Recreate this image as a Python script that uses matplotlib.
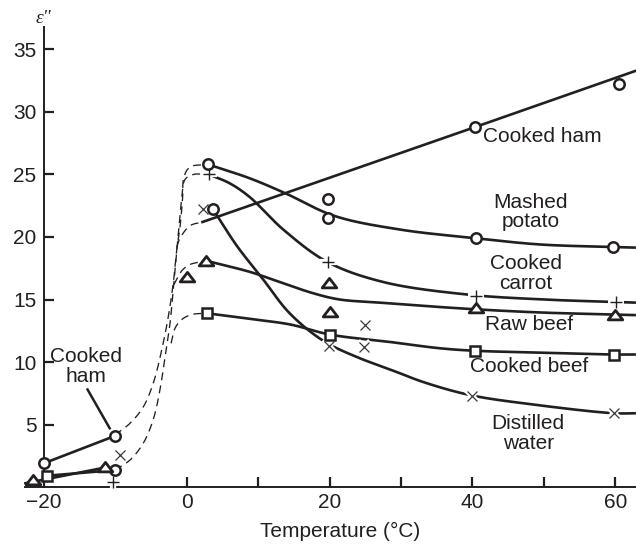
import numpy as np
import matplotlib
matplotlib.use("Agg")
import matplotlib.pyplot as plt
from matplotlib.path import Path

plt.rcParams['font.family'] = ['Liberation Sans', 'DejaVu Sans']

INK = '#231f20'

# ---------------- data ----------------
# Cooked ham (circles)
ham_mx = [-20, -10, 3.7, 40.4, 60.5]
ham_my = [1.9, 4.1, 22.2, 28.8, 32.2]
ham_low_x = [-20, -10]
ham_low_y = [1.9, 4.1]
ham_x = [2.2, 40.4, 62.9]
ham_y = [21.2, 28.8, 33.3]

# Mashed potato (circles)
pot_mx = [-10, 3.0, 19.8, 19.8, 40.5, 59.7]
pot_my = [1.35, 25.8, 23.0, 21.5, 19.9, 19.2]
pot_x = [3.0, 8.8, 13.8, 20.6, 29.8, 40.5, 49.5, 59.7, 62.9]
pot_y = [25.8, 24.7, 23.5, 21.7, 20.6, 19.9, 19.4, 19.2, 19.15]

# Cooked carrot (+)
car_mx = [-10.3, 3.1, 19.8, 40.5, 60.1]
car_my = [0.4, 25.0, 18.0, 15.3, 14.8]
car_x = [3.1, 6.0, 8.8, 13.5, 19.7, 27.5, 39.2, 50, 60.1, 62.9]
car_y = [25.0, 24.3, 23.2, 20.6, 18.0, 16.4, 15.4, 15.0, 14.8, 14.75]

# Raw beef (triangles)
rb_mx = [-21.6, -11.5, 0.0, 2.7, 19.9, 20.0, 40.5, 60.0]
rb_my = [0.6, 1.6, 16.8, 18.1, 16.3, 14.0, 14.3, 13.8]
rb_low_x = [-22.6, -11.5]
rb_low_y = [0.3, 1.55]
rb_x = [2.7, 8.9, 12.0, 17.7, 21.4, 27.0, 39.4, 50, 60.0, 62.9]
rb_y = [18.1, 17.2, 16.6, 15.5, 15.0, 14.75, 14.25, 13.95, 13.8, 13.75]

# Cooked beef (squares)
cb_mx = [-19.6, 2.8, 20.0, 40.3, 59.8]
cb_my = [0.9, 13.9, 12.2, 10.9, 10.6]
cb_low_x = [-19.6, -10.1]
cb_low_y = [0.9, 1.35]
cb_x = [2.8, 8.8, 14.5, 20.0, 28.5, 35.4, 40.3, 49.5, 59.8, 62.9]
cb_y = [13.9, 13.45, 13.0, 12.2, 11.6, 11.1, 10.9, 10.75, 10.6, 10.6]

# Distilled water (x)
dw_mx = [-9.3, 2.3, 19.9, 24.9, 24.8, 39.9, 59.8]
dw_my = [2.6, 22.2, 11.3, 13.0, 11.2, 7.3, 5.9]
dw_x = [3.7, 7.0, 10.7, 14.4, 19.1, 23.8, 28.5, 33.1, 39.7, 48.5, 59.8, 62.9]
dw_y = [22.2, 19.3, 16.6, 13.9, 11.7, 10.4, 9.4, 8.4, 7.35, 6.6, 5.9, 5.9]

# Dashed transition curves
d1_x = [-10.07, -7.95, -6.1, -4.7, -3.5, -2.6, -1.9, -1.4, -0.95, -0.6, -0.4, 0.45, 2.8]
d1_y = [4.16, 5.1, 6.4, 8.3, 11.0, 13.6, 16.3, 19.0, 20.8, 23.0, 24.8, 25.6, 25.8]
d2_x = [-10.07, -7.95, -6.1, -4.7, -3.75, -3.05, -2.35, -1.9, -1.5, -1.1, -0.7, -0.25, 0.9, 3.0]
d2_y = [1.36, 2.16, 3.5, 5.4, 7.8, 10.4, 13.1, 15.8, 18.2, 20.8, 23.2, 24.6, 25.0, 25.0]
bh_x = [-1.4, -0.95, 0.45, 2.2]
bh_y = [19.2, 19.9, 20.9, 21.2]
brb_x = [-1.8, -0.7, 0.45, 1.85, 2.7]
brb_y = [16.2, 17.3, 17.8, 18.0, 18.1]
bcb_x = [-2.2, -1.65, -0.7, 0.7, 2.8]
bcb_y = [11.5, 12.7, 13.4, 13.8, 13.9]

x_major = [-20, 0, 20, 40, 60]
x_minor = [-10, 10, 30, 50]
y_major = [5, 10, 15, 20, 25, 30, 35]

# ---------------- helpers ----------------
YS = 12.5 / 7.14  # aspect of data units in pixels


def smooth(xs, ys, n=40, alpha=0.5):
    P = np.column_stack([np.asarray(xs, float), np.asarray(ys, float) * YS])
    if len(P) < 3:
        return np.asarray(xs, float), np.asarray(ys, float)
    P = np.vstack([2 * P[0] - P[1], P, 2 * P[-1] - P[-2]])
    out = []
    for i in range(1, len(P) - 2):
        p0, p1, p2, p3 = P[i - 1], P[i], P[i + 1], P[i + 2]
        t0 = 0.0
        t1 = t0 + np.linalg.norm(p1 - p0) ** alpha
        t2 = t1 + np.linalg.norm(p2 - p1) ** alpha
        t3 = t2 + np.linalg.norm(p3 - p2) ** alpha
        t = np.linspace(t1, t2, n)[:, None]
        A1 = (t1 - t) / (t1 - t0) * p0 + (t - t0) / (t1 - t0) * p1
        A2 = (t2 - t) / (t2 - t1) * p1 + (t - t1) / (t2 - t1) * p2
        A3 = (t3 - t) / (t3 - t2) * p2 + (t - t2) / (t3 - t2) * p3
        B1 = (t2 - t) / (t2 - t0) * A1 + (t - t0) / (t2 - t0) * A2
        B2 = (t3 - t) / (t3 - t1) * A2 + (t - t1) / (t3 - t1) * A3
        C = (t2 - t) / (t2 - t1) * B1 + (t - t1) / (t2 - t1) * B2
        out.append(C if i == 1 else C[1:])
    C = np.vstack(out)
    return C[:, 0], C[:, 1] / YS


fig = plt.figure(figsize=(6.36, 5.45), dpi=100)
ax = fig.add_axes([25 / 636, 58 / 545, 611 / 636, 460 / 545])
ax.set_xlim(-22.66, 62.91)
ax.set_ylim(0, 36.8)

LW = 1.9
DLW = 0.95
dash = (0, (6, 4))

# solid curves
for xs, ys in [(pot_x, pot_y), (car_x, car_y), (rb_x, rb_y), (cb_x, cb_y), (dw_x, dw_y)]:
    sx, sy = smooth(xs, ys)
    ax.plot(sx, sy, color=INK, lw=LW, solid_capstyle='butt', zorder=3, clip_on=False)
ax.plot(ham_x, ham_y, color=INK, lw=LW, zorder=3, clip_on=False)
ax.plot(ham_low_x, ham_low_y, color=INK, lw=LW, zorder=3)
ax.plot(rb_low_x, rb_low_y, color=INK, lw=LW, zorder=3, clip_on=False)
ax.plot(cb_low_x, cb_low_y, color=INK, lw=LW, zorder=3)

# dashed curves
for xs, ys in [(d1_x, d1_y), (d2_x, d2_y), (bh_x, bh_y), (brb_x, brb_y), (bcb_x, bcb_y)]:
    sx, sy = smooth(xs, ys)
    ax.plot(sx, sy, color=INK, lw=DLW, linestyle=dash, zorder=2)

# markers
tri = Path([(-1, -0.6), (1, -0.6), (0, 0.7), (-1, -0.6)],
           [Path.MOVETO, Path.LINETO, Path.LINETO, Path.CLOSEPOLY])

ax.plot(ham_mx, ham_my, 'o', ms=7.5, mfc='white', mec=INK, mew=1.8, zorder=5, clip_on=False)
ax.plot(pot_mx, pot_my, 'o', ms=7.5, mfc='white', mec=INK, mew=1.8, zorder=5, clip_on=False)
ax.plot(cb_mx, cb_my, 's', ms=6.8, mfc='white', mec=INK, mew=1.8, zorder=5, clip_on=False)
ax.plot(rb_mx, rb_my, marker=tri, ls='none', ms=10.5, mfc='white', mec=INK, mew=2.0,
        zorder=5, clip_on=False)
ax.plot(car_mx, car_my, '+', ms=11, mec='white', mew=4.5, zorder=4, clip_on=False)
ax.plot(car_mx, car_my, '+', ms=8.5, mec=INK, mew=1.0, zorder=5, clip_on=False)
ax.plot(dw_mx, dw_my, 'x', ms=9, mec='white', mew=4.0, zorder=4, clip_on=False)
ax.plot(dw_mx, dw_my, 'x', ms=7.5, mec='#3a3a3a', mew=0.9, zorder=5, clip_on=False)

# axes styling
for s in ['top', 'right']:
    ax.spines[s].set_visible(False)
ax.spines['left'].set_position(('data', -20))
ax.spines['left'].set_linewidth(1.4)
ax.spines['bottom'].set_linewidth(1.4)
ax.spines['left'].set_color(INK)
ax.spines['bottom'].set_color(INK)
ax.spines['left'].set_zorder(1)

ax.set_xticks(x_major)
ax.set_xticks(x_minor, minor=True)
ax.set_yticks(y_major)
ax.tick_params(axis='both', which='both', direction='in', length=7, width=1.6,
               colors=INK, labelsize=15)
ax.tick_params(axis='x', which='both', pad=4.5)
ax.tick_params(axis='y', pad=5.5)
ax.set_xticklabels(['\u221220', '0', '20', '40', '60'])

ax.set_xlabel('Temperature (\u00b0C)', fontsize=15, color=INK)
ax.xaxis.set_label_coords(0.5155, -0.075)

ax.text(-20.1, 37.5, '\u03b5"', fontsize=14, fontstyle='italic', family='Liberation Serif',
        color=INK, ha='center', va='center', clip_on=False)

# labels
fs = 15
ax.text(41.5, 28.0, 'Cooked ham', fontsize=fs, color=INK, ha='left', va='center')
ax.text(48.1, 22.0, 'Mashed\npotato', fontsize=fs, color=INK, ha='center', va='center',
        linespacing=1.05)
ax.text(47.5, 17.1, 'Cooked\ncarrot', fontsize=fs, color=INK, ha='center', va='center',
        linespacing=1.05)
ax.text(47.9, 12.96, 'Raw beef', fontsize=fs, color=INK, ha='center', va='center')
ax.text(47.9, 9.6, 'Cooked beef', fontsize=fs, color=INK, ha='center', va='center')
ax.text(47.8, 4.3, 'Distilled\nwater', fontsize=fs, color=INK, ha='center', va='center',
        linespacing=1.05)
ax.text(-14.16, 9.64, 'Cooked\nham', fontsize=fs, color=INK, ha='center', va='center',
        linespacing=1.05)
ax.plot([-13.9, -10.8], [7.8, 4.7], color=INK, lw=1.8, zorder=3)

fig.savefig('out.png', dpi=100)
